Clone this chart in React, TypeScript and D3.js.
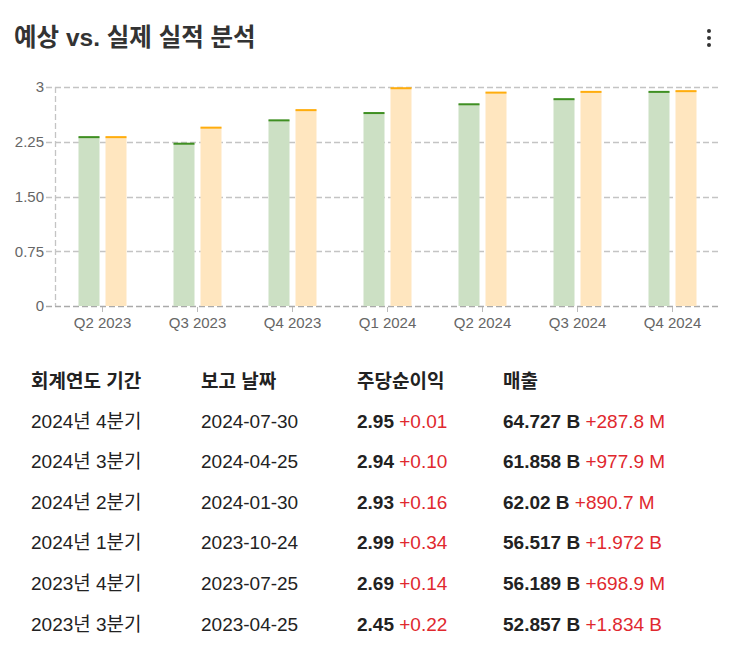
import React from "react";
import * as d3 from "d3";

const quarters = ["Q2 2023", "Q3 2023", "Q4 2023", "Q1 2024", "Q2 2024", "Q3 2024", "Q4 2024"];
const estimates = [2.32, 2.23, 2.55, 2.65, 2.77, 2.84, 2.94];
const actuals = [2.32, 2.45, 2.69, 2.99, 2.93, 2.94, 2.95];
const yTicks = [0, 0.75, 1.5, 2.25, 3];
const yTickLabels = ["0", "0.75", "1.50", "2.25", "3"];

const headers = ["회계연도 기간", "보고 날짜", "주당순이익", "매출"];
const periods = ["2024년 4분기", "2024년 3분기", "2024년 2분기", "2024년 1분기", "2023년 4분기", "2023년 3분기"];
const reportDates = ["2024-07-30", "2024-04-25", "2024-01-30", "2023-10-24", "2023-07-25", "2023-04-25"];
const epsValues = ["2.95", "2.94", "2.93", "2.99", "2.69", "2.45"];
const epsSurprise = ["+0.01", "+0.10", "+0.16", "+0.34", "+0.14", "+0.22"];
const revenueValues = ["64.727 B", "61.858 B", "62.02 B", "56.517 B", "56.189 B", "52.857 B"];
const revenueSurprise = ["+287.8 M", "+977.9 M", "+890.7 M", "+1.972 B", "+698.9 M", "+1.834 B"];

const FONT = "'Liberation Sans', Arial, 'Noto Sans CJK KR', sans-serif";

export default function App() {
  const W = 740, H = 645;
  const x = d3.scaleBand<string>().domain(quarters).range([55, 720]).paddingInner(0).paddingOuter(0);
  const y = d3.scaleLinear().domain([0, 3]).range([306, 87]);
  const barW = 21;
  const gap = 6;
  const colX = [31, 201, 357, 503];
  const headerY = 381;
  const rowY = d3.range(periods.length).map((i) => 421 + i * 40.6);

  return (
    <svg width={W} height={H} style={{ position: "absolute", left: 0, top: 0, fontFamily: FONT }}>
      <rect x={0} y={0} width={W} height={H} fill="#fff" />
      <text x={14} y={46} fontSize={24.5} fontWeight="bold" fill="#333">예상 vs. 실제 실적 분석</text>
      {[31, 38, 45].map((cy) => (
        <circle key={cy} cx={709} cy={cy} r={2} fill="#333" />
      ))}

      {/* grid */}
      {yTicks.map((t, i) => (
        <g key={t}>
          <line x1={46} x2={720} y1={Math.round(y(t)) + 0.5} y2={Math.round(y(t)) + 0.5}
            stroke={t === 0 ? "#aaa" : "#c4c4c4"} strokeDasharray="6,3" strokeWidth={1.3} />
          <text x={44} y={y(t)} dy="0.35em" textAnchor="end" fontSize={15} fill="#666">{yTickLabels[i]}</text>
        </g>
      ))}
      <line x1={55.5} x2={55.5} y1={87} y2={306} stroke="#c4c4c4" strokeDasharray="6,3" strokeWidth={1.3} />

      {/* bars */}
      {quarters.map((q, i) => {
        const c = (x(q) as number) + x.bandwidth() / 2;
        const gx = c - gap / 2 - barW;
        const ox = c + gap / 2;
        return (
          <g key={q}>
            <rect x={gx} y={y(estimates[i])} width={barW} height={y(0) - y(estimates[i])} fill="#cce0c4" />
            <rect x={gx} y={y(estimates[i]) - 0.5} width={barW} height={2} fill="#3f8f22" />
            <rect x={ox} y={y(actuals[i])} width={barW} height={y(0) - y(actuals[i])} fill="#ffe6bf" />
            <rect x={ox} y={y(actuals[i]) - 0.5} width={barW} height={2} fill="#ffad0d" />
            <line x1={c} x2={c} y1={307} y2={312} stroke="#bbb" />
            <text x={c} y={328} textAnchor="middle" fontSize={15} fill="#666">{q}</text>
          </g>
        );
      })}

      {/* table */}
      {headers.map((h, i) => (
        <text key={h} x={colX[i]} y={headerY} dy="0.35em" fontSize={19} fontWeight="bold" fill="#222">{h}</text>
      ))}
      {periods.map((p, i) => (
        <g key={p} fontSize={19}>
          <text x={colX[0]} y={rowY[i]} dy="0.35em" fill="#222">{p}</text>
          <text x={colX[1]} y={rowY[i]} dy="0.35em" fill="#222">{reportDates[i]}</text>
          <text x={colX[2]} y={rowY[i]} dy="0.35em" fill="#222">
            <tspan fontWeight="bold">{epsValues[i]}</tspan>
            <tspan fill="#e0282e"> {epsSurprise[i]}</tspan>
          </text>
          <text x={colX[3]} y={rowY[i]} dy="0.35em" fill="#222">
            <tspan fontWeight="bold">{revenueValues[i]}</tspan>
            <tspan fill="#e0282e"> {revenueSurprise[i]}</tspan>
          </text>
        </g>
      ))}
    </svg>
  );
}
